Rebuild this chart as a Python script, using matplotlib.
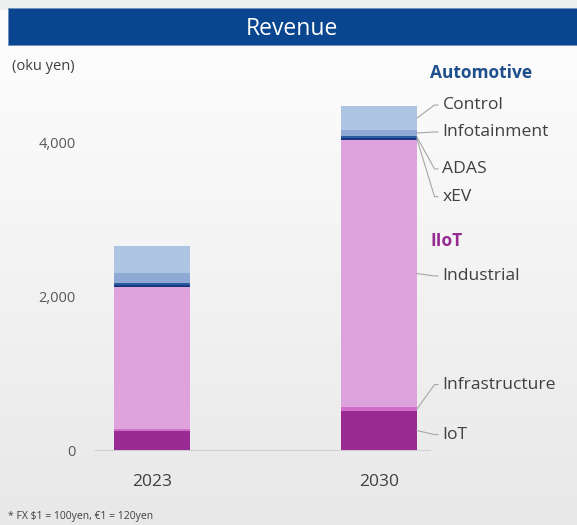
import numpy as np
import matplotlib
matplotlib.use('Agg')
import matplotlib.pyplot as plt
from matplotlib.patches import Rectangle

plt.rcParams['font.family'] = ['Open Sans', 'DejaVu Sans']

# data (oku yen)
years = ['2023', '2030']
segments = ['IoT', 'Infrastructure', 'Industrial', 'xEV', 'ADAS', 'Infotainment', 'Control']
iot = [253, 506]
infrastructure = [22, 52]
industrial = [1842, 3468]
xev = [29, 26]
adas = [23, 26]
infotainment = [130, 78]
control = [351, 312]
colors = ['#9A2A93', '#CF6FC9', '#DEA3DD', '#173A7E', '#2D5AA4', '#8EAAD4', '#ADC5E3']

values = [iot, infrastructure, industrial, xev, adas, infotainment, control]

W, H = 577, 525
fig = plt.figure(figsize=(W / 100, H / 100), dpi=100)

# background gradient
bg = fig.add_axes([0, 0, 1, 1])
grad = np.linspace(0, 1, 256).reshape(-1, 1)
top = np.array([0.985, 0.985, 0.985])
bot = np.array([0.91, 0.91, 0.91])
img = top + (bot - top) * np.clip((grad - 0.15) / 0.85, 0, 1)[:, :, None]
img = np.repeat(img, 2, axis=1)
bg.imshow(img, aspect='auto', extent=[0, 1, 0, 1], origin='upper')
bg.add_patch(Rectangle((0, 1 - 9 / H), 1, 9 / H, color='#EEF0F0'))
bg.set_xlim(0, 1)
bg.set_ylim(0, 1)
bg.axis('off')

# title banner
fig.patches.append(Rectangle((8 / W, 1 - 45 / H), 1, 37 / H, transform=fig.transFigure,
                             facecolor='#0A4590', edgecolor='#6E8FC0', lw=0.6))
fig.text(0.5 + 3 / W, 1 - 29 / H, 'Revenue', color='white', fontsize=16.5,
         ha='center', va='center')

# plot axes: x px 95..430, y px 450 (0) .. 65 (5000)
ax = fig.add_axes([95 / W, (H - 450) / H, 335 / W, 385 / H])
ax.patch.set_alpha(0)
xpos = np.arange(len(years))
width = 0.335
bottom = np.zeros(len(years))
for name, vals, c in zip(segments, values, colors):
    ax.bar(xpos, vals, width, bottom=bottom, color=c, label=name, zorder=3)
    bottom += np.array(vals)

ax.set_xlim(-0.251, 1.225)
ax.set_ylim(0, 5000)
ax.set_yticks([0, 2000, 4000])
ax.set_yticklabels(['0', '2,000', '4,000'], color='#595959', fontsize=10.5)
ax.set_xticks(xpos)
ax.set_xticklabels(years, color='#404040', fontsize=12.5)
ax.tick_params(axis='y', length=0, pad=14)
ax.tick_params(axis='x', length=0, pad=17)
for s in ['top', 'right', 'left']:
    ax.spines[s].set_visible(False)
ax.spines['bottom'].set_color('#D0D0D0')
ax.spines['bottom'].set_linewidth(0.8)

fig.text(12 / W, 1 - 67 / H, '(oku yen)', color='#404040', fontsize=10.5, va='center')

# legend labels with leader lines (2030 bar)
cum = np.cumsum([v[1] for v in values])
starts = cum - np.array([v[1] for v in values])
mids = (cum + starts) / 2
label_y = {'Control': 4480, 'Infotainment': 4130, 'ADAS': 3650, 'xEV': 3290,
           'Industrial': 2260, 'Infrastructure': 850, 'IoT': 200}
x_edge = 1 + width / 2
x_text = 1.28
for i, name in enumerate(segments):
    ly = label_y[name]
    ax.plot([x_edge, x_text - 0.035, x_text - 0.02], [mids[i], ly, ly],
            color='#A6A6A6', lw=0.8, clip_on=False, zorder=4)
    ax.text(x_text, ly, name, color='#404040', fontsize=12.6, va='center', clip_on=False)

ax.text(1.225, 4900, 'Automotive', color='#1F4E8C', fontsize=12.5, fontweight='bold',
        va='center', clip_on=False)
ax.text(1.225, 2720, 'IIoT', color='#952B90', fontsize=12.5, fontweight='bold',
        va='center', clip_on=False)

fig.text(8 / W, 1 - 516 / H, '* FX $1 = 100yen, \u20ac1 = 120yen', color='#404040',
         fontsize=7.5, va='center')

fig.savefig('out.png', dpi=100)
